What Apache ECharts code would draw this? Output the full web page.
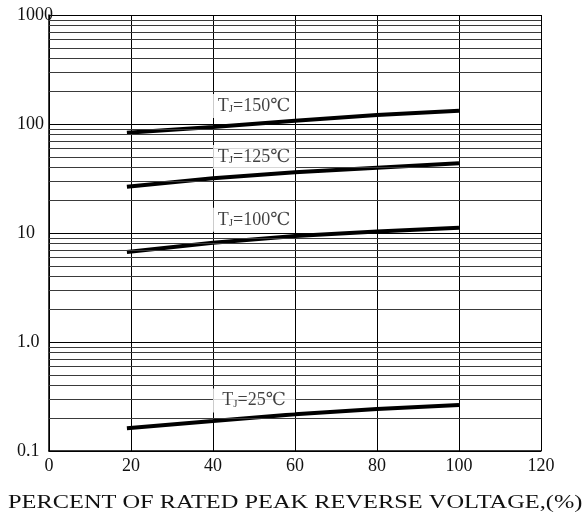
<!DOCTYPE html>
<html>
<head>
<meta charset="utf-8">
<script src="https://cdn.jsdelivr.net/npm/echarts@6/dist/echarts.min.js"></script>
<style>html,body{margin:0;padding:0;background:#fff}#c{width:586px;height:521px}</style>
</head>
<body>
<div id="c"></div>
<script>
// ---- data ----
var xValues = [19, 40, 60, 80, 100];
var seriesNames = ['150', '125', '100', '25'];
var tj150 = [83, 94, 107, 121, 132];
var tj125 = [26.6, 31.8, 36.1, 39.7, 43.6];
var tj100 = [6.7, 8.15, 9.4, 10.3, 11.2];
var tj25  = [0.162, 0.188, 0.217, 0.243, 0.264];
var labelX = [50, 50, 50, 50];
var labelY = [146, 49.8, 13.2, 0.29];
var labelTemps = ['150', '125', '100', '25'];
var xTicks = [0, 20, 40, 60, 80, 100, 120];
var yTickLabels = { '-1': '0.1', '0': '1.0', '1': '10', '2': '100', '3': '1000' };
var minorGridValues = [0.2,0.3,0.4,0.5,0.6,0.7,0.8,0.9, 2,3,4,5,6,7,8,9, 20,30,40,50,60,70,80,90, 200,300,400,500,600,700,800,900];
var xTitle = 'PERCENT OF RATED PEAK REVERSE VOLTAGE,(%)';

var serif = '"Liberation Serif", "DejaVu Serif", serif';
function pairs(vals) { return xValues.map(function (x, i) { return [x, vals[i]]; }); }

var dataSeries = [tj150, tj125, tj100, tj25].map(function (vals, i) {
  return {
    type: 'line', name: seriesNames[i], data: pairs(vals), symbol: 'none',
    lineStyle: { color: '#000', width: 4 }, z: 3, silent: true
  };
});

var chart = echarts.init(document.getElementById('c'), null, { renderer: 'canvas' });
chart.setOption({
  animation: false,
  backgroundColor: '#fff',
  grid: { left: 49, right: 45, top: 15, bottom: 70, containLabel: false },
  xAxis: {
    type: 'value', min: 0, max: 120, interval: 20,
    axisLine: { show: true, lineStyle: { color: '#000', width: 1.5 } },
    axisTick: { show: false },
    splitLine: { show: true, lineStyle: { color: '#000', width: 1 } },
    axisLabel: { color: '#111', fontFamily: serif, fontSize: 18, margin: 6 }
  },
  yAxis: {
    type: 'log', logBase: 10, min: 0.1, max: 1000,
    axisLine: { show: true, lineStyle: { color: '#000', width: 1.5 } },
    axisTick: { show: false },
    splitLine: { show: true, lineStyle: { color: '#000', width: 1 } },
    axisLabel: {
      color: '#111', fontFamily: serif, fontSize: 18, margin: 32, align: 'left',
      formatter: function (v) { return yTickLabels[String(Math.round(Math.log10(v)))]; }
    }
  },
  graphic: [{
    type: 'text', left: 8, top: 494, scaleX: 1.355,
    style: { text: xTitle, fill: '#111', font: '18px ' + serif }
  }],
  series: [{
    type: 'line', data: [], silent: true, z: 1,
    markLine: {
      silent: true, symbol: 'none', label: { show: false }, animation: false,
      lineStyle: { color: '#3a3a3a', width: 1, type: 'solid' },
      data: minorGridValues.map(function (v) { return { yAxis: v }; })
    }
  }].concat(dataSeries).concat([{
    type: 'scatter', symbolSize: 0, z: 5, silent: true,
    data: labelX.map(function (x, i) { return [x, labelY[i], labelTemps[i]]; }),
    label: {
      show: true, position: 'inside', backgroundColor: '#fff', padding: [3, 4],
      width: 74, align: 'center',
      formatter: function (p) { return '{t|T}{s|J}{t|=' + p.data[2] + '℃}'; },
      rich: {
        t: { fontFamily: serif, fontSize: 18, color: '#111' },
        s: { fontFamily: serif, fontSize: 11, color: '#111', verticalAlign: 'bottom', padding: [6, 0, 0, 0] }
      }
    }
  }])
});
</script>
</body>
</html>
